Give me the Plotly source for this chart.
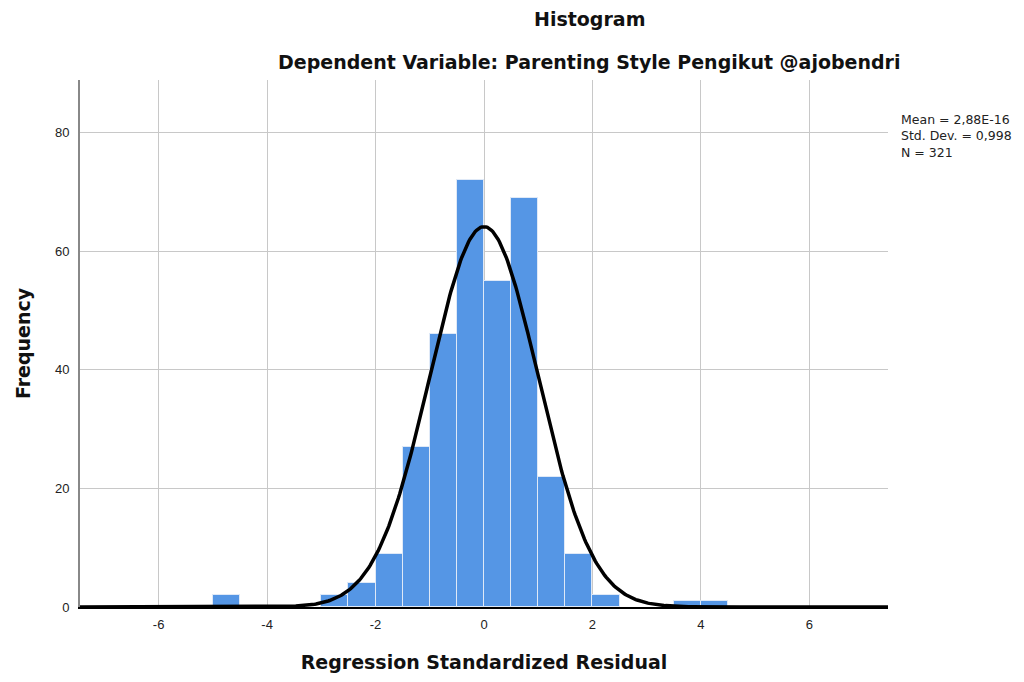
import numpy as np
import plotly.graph_objects as go

# Histogram data (bin left edges, width 0.5)
bin_left = [-5.0, -3.0, -2.5, -2.0, -1.5, -1.0, -0.5, 0.0, 0.5, 1.0, 1.5, 2.0, 3.5, 4.0]
counts   = [2,    2,    4,    9,    27,   46,   72,   55,   69,   22,   9,    2,   1,   1]
bin_width = 0.5

# Fitted normal curve parameters (shown in the chart)
mean_val = 2.88e-16
std_val = 0.998
n_val = 321

x_ticks = [-6, -4, -2, 0, 2, 4, 6]
y_ticks = [0, 20, 40, 60, 80]

centers = [b + bin_width / 2 for b in bin_left]

xs = np.linspace(-7.45, 7.45, 600)
ys = n_val * bin_width * np.exp(-0.5 * ((xs - mean_val) / std_val) ** 2) / (std_val * np.sqrt(2 * np.pi))

fig = go.Figure()
fig.add_trace(go.Bar(
    x=centers, y=counts, width=bin_width,
    marker=dict(color="#5596e5", line=dict(color="#dfe9f7", width=1)),
    hoverinfo="x+y", showlegend=False,
))
fig.add_trace(go.Scatter(
    x=xs, y=ys, mode="lines",
    line=dict(color="black", width=3.5),
    showlegend=False, cliponaxis=True,
))

font_family = "Liberation Sans, Arial, sans-serif"
title_family = "DejaVu Sans, Liberation Sans, Arial, sans-serif"

# Figure is drawn with an 8px page margin, so plot area in figure coords: x 72..880, y 72..599
W, H = 1016, 674
L, R, T, B = 72, 136, 72, 75
PW, PH = W - L - R, H - T - B

def px(x):
    return (x - 8 - L) / PW

def py(y):
    return (H - B - (y - 8)) / PH

fig.update_layout(
    width=W, height=H,
    margin=dict(l=L, r=R, t=T, b=B),
    plot_bgcolor="white", paper_bgcolor="white",
    font=dict(family=font_family, color="#222222", size=13),
    xaxis=dict(
        range=[-7.45, 7.45], tickvals=x_ticks, ticktext=[str(t) for t in x_ticks],
        showgrid=True, gridcolor="#c8c8c8", gridwidth=1,
        showline=True, linecolor="black", linewidth=2,
        zeroline=False, ticks="", ticklen=0, ticklabelstandoff=4,
        title=dict(text="<b>Regression Standardized Residual</b>",
                   font=dict(size=19, color="#111111", family=title_family), standoff=25),
        tickfont=dict(size=13, color="#222222"),
    ),
    yaxis=dict(
        range=[0, 88.9], tickvals=y_ticks, ticktext=[str(t) for t in y_ticks],
        showgrid=True, gridcolor="#c8c8c8", gridwidth=1,
        showline=True, linecolor="#888888", linewidth=2,
        zeroline=False, ticks="", ticklen=0, ticklabelstandoff=6,
        title=dict(text="<b>Frequency</b>", font=dict(size=19, color="#111111", family=title_family), standoff=19),
        tickfont=dict(size=13, color="#222222"),
    ),
    bargap=0,
)

fig.add_annotation(text="<b>Histogram</b>", xref="paper", yref="paper",
                   x=px(589), y=py(19), xanchor="center", yanchor="middle",
                   showarrow=False, font=dict(size=19, color="#111111", family=title_family))
fig.add_annotation(text="<b>Dependent Variable: Parenting Style Pengikut @ajobendri</b>",
                   xref="paper", yref="paper",
                   x=px(589), y=py(62), xanchor="center", yanchor="middle",
                   showarrow=False, font=dict(size=19, color="#111111", family=title_family))
fig.add_annotation(text="Mean = 2,88E-16<br>Std. Dev. = 0,998<br>N = 321",
                   xref="paper", yref="paper", align="left",
                   x=px(899), y=py(110), xanchor="left", yanchor="top",
                   showarrow=False, font=dict(size=12.5, color="#222222", family=title_family))

fig.write_html("out.html")
